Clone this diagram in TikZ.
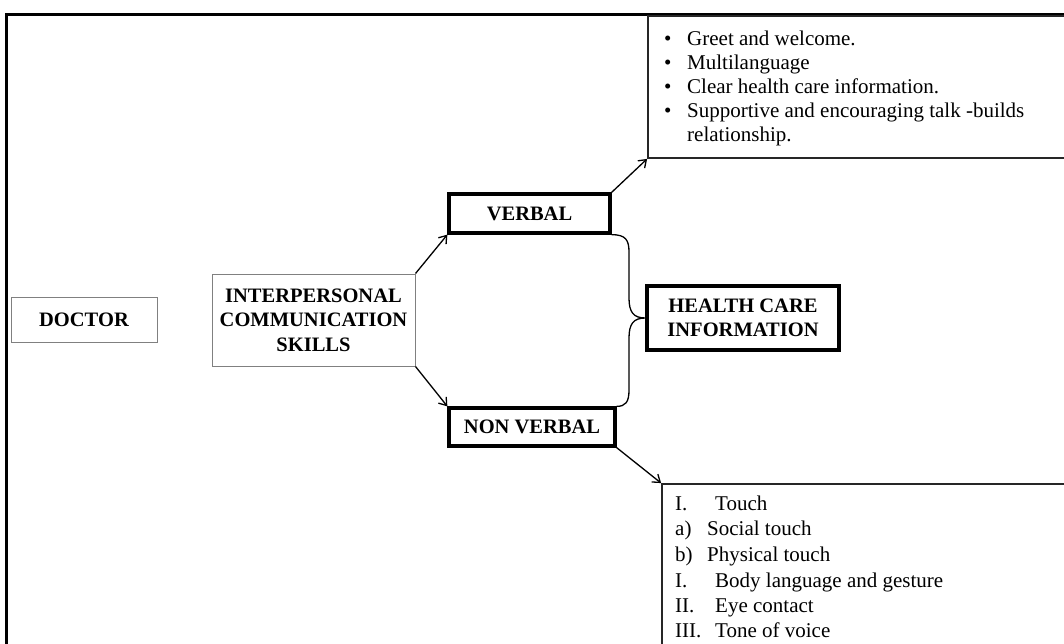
\documentclass[tikz,border=0pt]{standalone}
\usepackage{fontspec}
\setmainfont{Liberation Serif}
\usetikzlibrary{arrows.meta}
\begin{document}
\begin{tikzpicture}[x=1pt,y=-1pt,
 thinbox/.style={draw=black!50, line width=1pt, inner sep=0pt, align=center, font=\fontsize{20.5}{24.5}\selectfont\bfseries},
 thickbox/.style={draw=black, line width=3.3pt, inner sep=0pt, align=center, font=\fontsize{20.5}{23.5}\selectfont\bfseries},
 listbox/.style={draw=black!85, line width=1.8pt, inner sep=0pt},
 itemtxt/.style={anchor=west, inner sep=0pt, font=\fontsize{21}{24}\selectfont, text height=14.5pt, text depth=4.5pt},
 conn/.style={line width=1.3pt, -{Straight Barb[length=7pt,width=10pt]}},
 frameline/.style={line width=3pt}]
\useasboundingbox (0,0) rectangle (1064,644);
% outer frame
\draw[frameline] (6,660) -- (6,15) -- (1080,15);
% main nodes
\node[thinbox, minimum width=146pt, minimum height=45pt] (doctor) at (84,319.5) {DOCTOR};
\node[thinbox, minimum width=203pt, minimum height=92pt] (ips) at (313.5,320) {INTERPERSONAL\\COMMUNICATION\\SKILLS};
\node[thickbox, minimum width=161pt, minimum height=39pt] (verbal) at (529.5,213.5) {VERBAL};
\node[thickbox, minimum width=166pt, minimum height=38pt] (nonverbal) at (532,427) {NON VERBAL};
\node[thickbox, minimum width=192pt, minimum height=64pt] (hc) at (743,318) {HEALTH CARE\\INFORMATION};
% list boxes
\node[listbox, minimum width=432pt, minimum height=142pt] (vlist) at (864,87) {};
\node[listbox, minimum width=420pt, minimum height=176pt] (nvlist) at (872,572) {};
% verbal list
\foreach \y/\t [count=\i] in {41/Greet and welcome., 65/Multilanguage, 89/Clear health care information., 113/Supportive and encouraging talk -builds}{
  \node[itemtxt] (vb\i) at (664,\y) {•};
  \node[itemtxt] (vt\i) at (687,\y) {\t};
}
\node[itemtxt] (vt5) at (687,137) {relationship.};
% non verbal list
\node[itemtxt] (nl1) at (675,505) {I.};   \node[itemtxt] (nt1) at (715,505) {Touch};
\node[itemtxt] (nl2) at (675,530) {a)};   \node[itemtxt] (nt2) at (707,530) {Social touch};
\node[itemtxt] (nl3) at (675,556) {b)};   \node[itemtxt] (nt3) at (707,556) {Physical touch};
\node[itemtxt] (nl4) at (675,582) {I.};   \node[itemtxt] (nt4) at (715,582) {Body language and gesture};
\node[itemtxt] (nl5) at (675,607) {II.};  \node[itemtxt] (nt5) at (715,607) {Eye contact};
\node[itemtxt] (nl6) at (675,632) {III.}; \node[itemtxt] (nt6) at (715,632) {Tone of voice};
% connectors
\draw[conn] (ips.north east) -- (verbal.south west);
\draw[conn] (ips.south east) -- (nonverbal.north west);
\draw[conn] (verbal.north east) -- (vlist.south west);
\draw[conn] (nonverbal.south east) -- (nvlist.north west);
% brace
\draw[line width=1.3pt] (verbal.south east) .. controls +(14,0) and +(0,-12) .. (629,252) -- (629,298)
  .. controls +(0,14) and +(-12,0) .. (hc.west)
  .. controls +(-12,0) and +(0,-14) .. (629,338) -- (629,390)
  .. controls +(0,12) and +(9,0) .. (nonverbal.north east);
\end{tikzpicture}
\end{document}
